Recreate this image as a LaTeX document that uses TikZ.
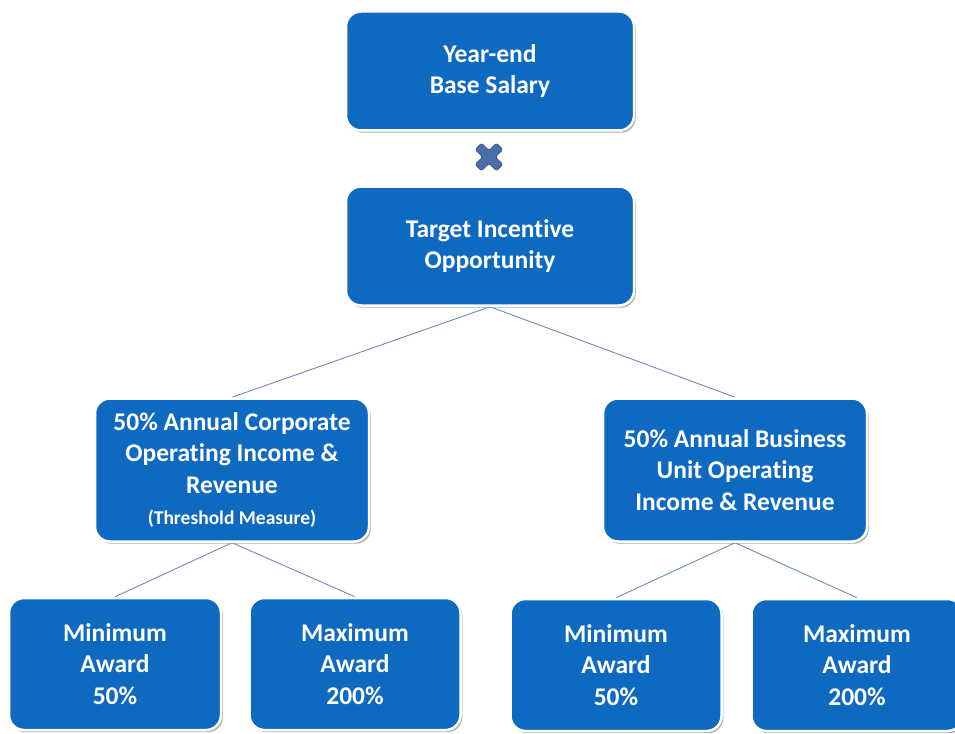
\documentclass[tikz,border=0pt]{standalone}
\usepackage{fontspec}
\setmainfont{Carlito}[Ligatures=NoCommon]
\usetikzlibrary{shadows,backgrounds}
\definecolor{boxblue}{RGB}{14,106,192}
\definecolor{linkblue}{RGB}{110,140,185}
\definecolor{crossblue}{RGB}{74,110,168}
\definecolor{crossedge}{RGB}{50,80,130}
\tikzset{
  bluebox/.style={rectangle, rounded corners=15pt, fill=boxblue, draw=white,
    line width=2.5pt, text=white, align=center, inner sep=2pt,
    font=\bfseries\fontsize{25.5}{31.5}\selectfont,
    drop shadow={shadow xshift=1.8pt, shadow yshift=-2.2pt, fill=black!45, opacity=0.7}},
  link/.style={draw=linkblue, line width=0.9pt},
}
\begin{document}
\begin{tikzpicture}[x=1pt,y=-1pt]
\useasboundingbox (0,0) rectangle (955,733);
\clip (0,0) rectangle (955,733);

\node[bluebox, minimum width=288, minimum height=119] (top) at (490,71) {Year-end\\Base Salary};
\node[bluebox, minimum width=288, minimum height=119] (tio) at (490,246) {Target Incentive\\Opportunity};
\node[bluebox, minimum width=274, minimum height=143] (corp) at (232,470)
  {50\% Annual Corporate\\Operating Income \&\\Revenue\\{\fontsize{19.5}{26}\selectfont(Threshold Measure)}};
\node[bluebox, minimum width=264, minimum height=143] (bu) at (735,470)
  {50\% Annual Business\\Unit Operating\\Income \& Revenue};
\node[bluebox, minimum width=212, minimum height=132] (min1) at (115,664) {Minimum\\Award\\50\%};
\node[bluebox, minimum width=211, minimum height=132] (max1) at (355,664) {Maximum\\Award\\200\%};
\node[bluebox, minimum width=211, minimum height=132] (min2) at (616,665) {Minimum\\Award\\50\%};
\node[bluebox, minimum width=211, minimum height=132] (max2) at (857,665) {Maximum\\Award\\200\%};

\begin{scope}[on background layer]
\fill[white] (0,0) rectangle (955,733);
\draw[link] (tio.south) -- (corp.north);
\draw[link] (tio.south) -- (bu.north);
\draw[link] (corp.south) -- (min1.north);
\draw[link] (corp.south) -- (max1.north);
\draw[link] (bu.south) -- (min2.north);
\draw[link] (bu.south) -- (max2.north);
\end{scope}

% multiplication cross
\begin{scope}[shift={(489,157)}, rotate=45]
\filldraw[fill=crossblue, draw=crossedge, line width=0.8pt, rounded corners=1.5pt]
  (-4.5,-15) -- (4.5,-15) -- (4.5,-4.5) -- (15,-4.5) -- (15,4.5) -- (4.5,4.5)
  -- (4.5,15) -- (-4.5,15) -- (-4.5,4.5) -- (-15,4.5) -- (-15,-4.5) -- (-4.5,-4.5) -- cycle;
\end{scope}
\end{tikzpicture}
\end{document}
